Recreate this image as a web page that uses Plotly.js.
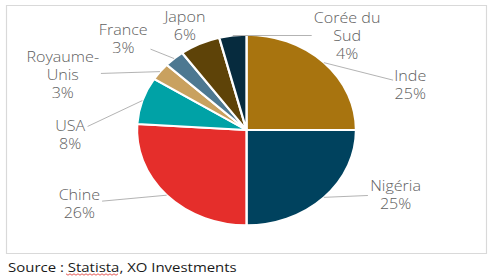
<!DOCTYPE html>
<html><head><meta charset="utf-8">
<script src="https://cdn.plot.ly/plotly-3.0.1.min.js"></script>
<style>
html,body{margin:0;padding:0;background:#fff;overflow:hidden}
#wrap{width:492px;height:280px;overflow:hidden}
#chart{width:428px;height:280px;transform:scaleX(1.1495);transform-origin:0 0}
</style></head>
<body><div id="wrap"><div id="chart"></div></div>
<script>
// ---- data ----
const countries = ['Inde', 'Nigéria', 'Chine', 'USA', 'Royaume-Unis', 'France', 'Japon', 'Corée du Sud'];
const labelText = ['Inde', 'Nigéria', 'Chine', 'USA', 'Royaume-<br>Unis', 'France', 'Japon', 'Corée du<br>Sud'];
const shares = [25, 25, 26, 8, 3, 3, 6, 4];

// ---- styles / placement ----
const sliceColors = ['#A8740F', '#00425E', '#E52E2B', '#00A2A6', '#C9A15F', '#4D7891', '#5E4308', '#062B3E'];
const labelOffsets = [[87, 22], [71, -3], [-87, 8], [-72, 34], [-97, 3], [-50, -20], [-16, -18], [114, 0]];
const showLeader = [true, true, true, true, true, true, false, true];

const W = 428, H = 280, S = 492 / 428;
const dom = { x: [137 / 492, 356 / 492], y: [1 - (130 + 95.25) / 280, 1 - (130 - 95.25) / 280] };
const R = Math.min((dom.x[1] - dom.x[0]) * W, (dom.y[1] - dom.y[0]) * H) / 2;
const cx = (dom.x[0] + dom.x[1]) / 2, cy = (dom.y[0] + dom.y[1]) / 2;
const total = shares.reduce((a, b) => a + b, 0);

const labelFont = { family: 'Open Sans, sans-serif', size: 14, color: '#606060', weight: 300 };

const annotations = [];
let cum = 0;
shares.forEach((v, i) => {
  const mid = (cum + v / 2) / total * 2 * Math.PI;
  cum += v;
  const pct = Math.round(v / total * 100) + '%';
  annotations.push({
    xref: 'paper', yref: 'paper',
    x: cx + R * Math.sin(mid) / W,
    y: cy + R * Math.cos(mid) / H,
    ax: labelOffsets[i][0] / S, ay: labelOffsets[i][1],
    text: labelText[i] + '<br>' + pct,
    showarrow: true, arrowhead: 0, arrowwidth: 0.8, standoff: 0,
    arrowcolor: showLeader[i] ? '#A6A6A6' : 'rgba(0,0,0,0)',
    align: 'center',
    font: labelFont
  });
});
annotations.push({
  xref: 'paper', yref: 'paper', x: 6 / 492, y: 1 - 267 / 280,
  xanchor: 'left', yanchor: 'middle', showarrow: false,
  text: 'Source : Statista, XO Investments',
  font: { family: 'Open Sans, sans-serif', size: 13, color: '#1a1a1a' }
});

// spell-check style wavy underline under "Statista"
let wave = '';
for (let px = 66, k = 0; px <= 118; px += 2, k++) {
  const py = 274 + (k % 2 ? 1.2 : -0.2);
  wave += (k ? ' L ' : 'M ') + (px / 492).toFixed(5) + ' ' + (1 - py / 280).toFixed(5);
}

const trace = {
  type: 'pie', values: shares, labels: countries,
  sort: false, direction: 'clockwise', rotation: 0,
  textinfo: 'none', hoverinfo: 'label+percent',
  marker: { colors: sliceColors, line: { color: '#ffffff', width: 2 } },
  domain: dom
};

const layout = {
  width: W, height: H,
  margin: { l: 0, r: 0, t: 0, b: 0 },
  showlegend: false,
  paper_bgcolor: '#ffffff',
  shapes: [{
    type: 'rect', xref: 'paper', yref: 'paper',
    x0: 6.5 / 492, x1: 486.5 / 492, y0: 1 - 253.5 / 280, y1: 1 - 5.5 / 280,
    line: { color: '#D9D9D9', width: 1 }, fillcolor: 'rgba(0,0,0,0)'
  }, {
    type: 'path', xref: 'paper', yref: 'paper', path: wave,
    line: { color: '#E0403A', width: 0.8 }
  }],
  annotations: annotations
};

Plotly.newPlot('chart', [trace], layout, { staticPlot: true, displayModeBar: false });
</script>
</body></html>
